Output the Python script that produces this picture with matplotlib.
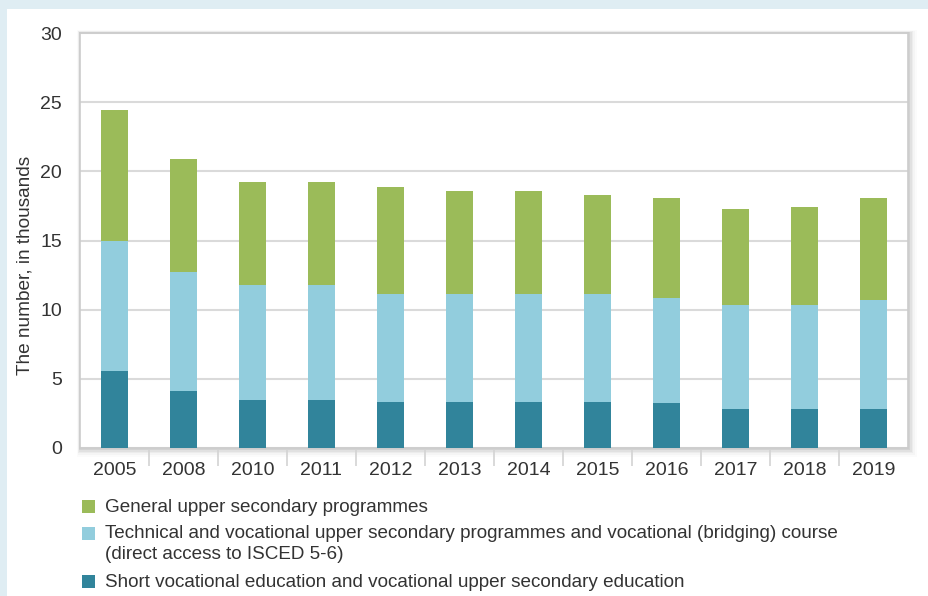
import matplotlib.pyplot as plt
import numpy as np
from matplotlib.patches import Rectangle

plt.rcParams['font.family'] = ['Liberation Sans', 'DejaVu Sans']

# data, in thousands
years = ['2005', '2008', '2010', '2011', '2012', '2013', '2014', '2015', '2016', '2017', '2018', '2019']
short_voc = [5.6, 4.1, 3.5, 3.5, 3.3, 3.3, 3.3, 3.3, 3.25, 2.8, 2.8, 2.8]
tech_voc = [9.35, 8.6, 8.3, 8.3, 7.8, 7.8, 7.8, 7.8, 7.6, 7.55, 7.55, 7.9]
general = [9.45, 8.2, 7.45, 7.45, 7.75, 7.45, 7.45, 7.2, 7.25, 6.9, 7.1, 7.4]

labels = ['General upper secondary programmes',
          'Technical and vocational upper secondary programmes and vocational (bridging) course\n(direct access to ISCED 5-6)',
          'Short vocational education and vocational upper secondary education']
colors = ['#9bbb59', '#92cddd', '#31849b']

W, H = 929, 596
fig = plt.figure(figsize=(W / 100, H / 100), dpi=100)
fig.patch.set_facecolor('#dfedf3')
fig.patches.append(Rectangle((7 / W, 0), 1, (H - 9) / H, transform=fig.transFigure,
                             facecolor='white', edgecolor='none', zorder=0))

x0, x1, y0, y1 = 80, 908, 448, 33
ax = fig.add_axes([x0 / W, 1 - y0 / H, (x1 - x0) / W, (y0 - y1) / H])

# soft drop shadow round the plot frame
for i, a in enumerate([0.06, 0.045, 0.035, 0.025, 0.015]):
    d = (i + 1) * 1.8
    fig.patches.append(Rectangle(((x0 - d * 0.3) / W, 1 - (y0 + d) / H),
                                 (x1 - x0 + d * 1.3) / W, (y0 - y1 + d * 1.3) / H,
                                 transform=fig.transFigure, facecolor='black',
                                 edgecolor='none', alpha=a, zorder=0.5))

x = np.arange(len(years))
w = 0.4
ax.bar(x, short_voc, w, color=colors[2], zorder=3)
ax.bar(x, tech_voc, w, bottom=short_voc, color=colors[1], zorder=3)
ax.bar(x, general, w, bottom=np.add(short_voc, tech_voc), color=colors[0], zorder=3)

ax.set_xlim(-0.5, len(years) - 0.5)
ax.set_ylim(0, 30)
ax.set_yticks(range(0, 31, 5))
ax.yaxis.grid(True, color='#dadada', linewidth=1.5, zorder=0)
ax.set_axisbelow(True)
ax.set_facecolor('white')
ax.set_zorder(1)

for s in ['top', 'right', 'left', 'bottom']:
    ax.spines[s].set_color('#cccccc')
    ax.spines[s].set_linewidth(1.2)

ax.set_xticks(x)
ax.set_xticklabels(years)
ax.set_xticks(np.arange(0.5, len(years) - 0.5), minor=True)
ax.tick_params(axis='x', which='major', length=0, pad=10, labelsize=14, labelcolor='#333333')
ax.tick_params(axis='x', which='minor', length=13, width=1.2, color='#d3d3d3')
ax.tick_params(axis='y', length=0, pad=13, labelsize=14, labelcolor='#333333')

fig.text(25 / W, 1 - 265 / H, 'The number, in thousands', rotation=90,
         ha='center', va='center', fontsize=13.7, color='#333333')

# legend drawn by hand so the multi-line entry keeps its square on the first line
box_mid = [506.5, 533.5, 581.5]
text_top = [499, 525, 574]
for lab, col, ym, yt in zip(labels, colors, box_mid, text_top):
    fig.patches.append(Rectangle((82 / W, 1 - (ym + 6.5) / H), 13 / W, 13 / H,
                                 transform=fig.transFigure, facecolor=col, edgecolor='none'))
    fig.text(105 / W, 1 - yt / H, lab, ha='left', va='top', fontsize=13.6,
             color='#333333', linespacing=1.3)

fig.savefig('out.png', dpi=100, facecolor=fig.get_facecolor())
